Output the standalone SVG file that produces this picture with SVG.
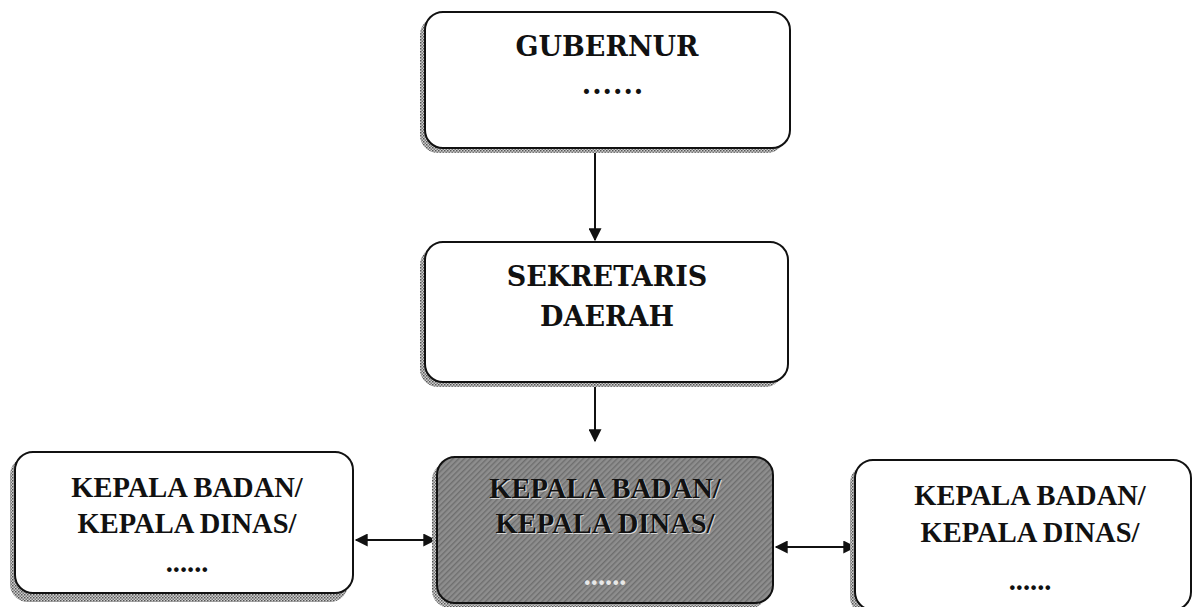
<svg xmlns="http://www.w3.org/2000/svg" width="1193" height="607" viewBox="0 0 1193 607">
  <style>
    .box { fill: #ffffff; stroke: #111111; stroke-width: 2; }
    .shadow { fill: url(#dots); }
    .dark { fill: url(#hatch); stroke: #111111; stroke-width: 2; }
    .head { font-family: "DejaVu Serif", "Liberation Serif", serif; font-weight: bold; font-size: 27px; fill: #111111; text-anchor: middle; }
    .label { font-family: "Liberation Serif", "Times New Roman", serif; font-weight: bold; font-size: 28.5px; fill: #111111; text-anchor: middle; }
    .halo { fill: #d8d8d8; }
    .line { stroke: #111111; stroke-width: 2; fill: none; }
  </style>
  <defs>
    <pattern id="dots" width="3" height="3" patternUnits="userSpaceOnUse">
      <rect width="3" height="3" fill="#d0d0d0"/>
      <rect width="1.5" height="1.5" fill="#555555"/>
      <rect x="1.5" y="1.5" width="1.5" height="1.5" fill="#777777"/>
    </pattern>
    <pattern id="hatch" width="4" height="4" patternUnits="userSpaceOnUse" patternTransform="rotate(45)">
      <rect width="4" height="4" fill="#8e8e8e"/>
      <rect width="1.4" height="4" fill="#6e6e6e"/>
    </pattern>
    <marker id="arrow" viewBox="0 0 10 10" refX="9" refY="5" markerWidth="14" markerHeight="13" markerUnits="userSpaceOnUse" orient="auto-start-reverse">
      <path d="M0,0 L10,5 L0,10 Z" fill="#111111"/>
    </marker>
  </defs>

  <!-- Connectors -->
  <g id="connectors">
    <line class="line" x1="595" y1="150" x2="595" y2="240" marker-end="url(#arrow)"/>
    <line class="line" x1="595" y1="385" x2="595" y2="441" marker-end="url(#arrow)"/>
    <line class="line" x1="356" y1="540" x2="435" y2="540" marker-start="url(#arrow)" marker-end="url(#arrow)"/>
    <line class="line" x1="776" y1="547" x2="855" y2="547" marker-start="url(#arrow)" marker-end="url(#arrow)"/>
  </g>

  <!-- Gubernur -->
  <g id="gubernur">
    <rect class="shadow" x="420" y="17" width="365" height="136" rx="18"/>
    <rect class="box" x="425" y="12" width="365" height="136" rx="18"/>
    <text class="head" x="607" y="56">GUBERNUR</text>
    <text class="head" x="613" y="94" font-size="19" letter-spacing="1">......</text>
  </g>

  <!-- Sekretaris Daerah -->
  <g id="sekretaris">
    <rect class="shadow" x="420" y="247" width="363" height="140" rx="18"/>
    <rect class="box" x="425" y="242" width="363" height="140" rx="18"/>
    <text class="head" x="607" y="286">SEKRETARIS</text>
    <text class="head" x="607" y="326">DAERAH</text>
  </g>

  <!-- Kepala Badan (left) -->
  <g id="kepala-left">
    <rect class="shadow" x="10" y="457" width="338" height="145" rx="18"/>
    <rect class="box" x="15" y="452" width="338" height="141" rx="18"/>
    <text class="label" x="187" y="497">KEPALA BADAN/</text>
    <text class="label" x="187" y="533">KEPALA DINAS/</text>
    <text class="label" x="187" y="572" font-size="19">......</text>
  </g>

  <!-- Kepala Badan (centre, highlighted) -->
  <g id="kepala-center">
    <rect class="shadow" x="432" y="462" width="336" height="146" rx="18"/>
    <rect class="dark" x="437" y="457" width="336" height="146" rx="18"/>
    <text class="label halo" x="606" y="499">KEPALA BADAN/</text>
    <text class="label halo" x="606" y="534">KEPALA DINAS/</text>
    <text class="label" x="605" y="498">KEPALA BADAN/</text>
    <text class="label" x="605" y="533">KEPALA DINAS/</text>
    <text class="label" x="605" y="585" font-size="19" style="fill:#e8e8e8">......</text>
  </g>

  <!-- Kepala Badan (right) -->
  <g id="kepala-right">
    <rect class="shadow" x="850" y="465" width="336" height="150" rx="18"/>
    <rect class="box" x="855" y="460" width="336" height="150" rx="18"/>
    <text class="label" x="1030" y="505">KEPALA BADAN/</text>
    <text class="label" x="1030" y="542">KEPALA DINAS/</text>
    <text class="label" x="1030" y="590" font-size="19">......</text>
  </g>
</svg>
